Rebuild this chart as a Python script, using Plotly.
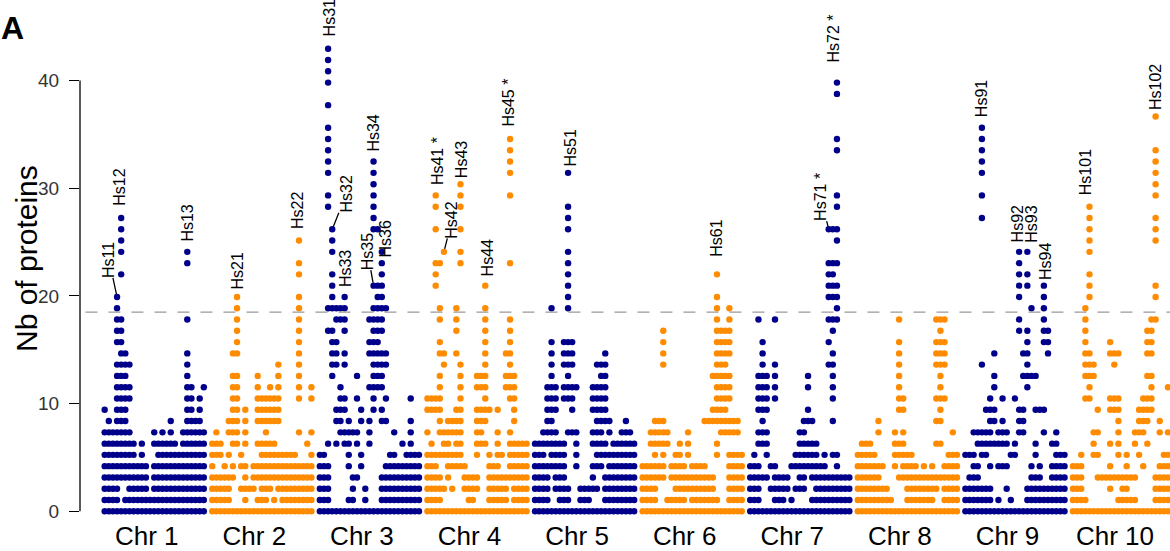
import plotly.graph_objects as go

# ---------------------------------------------------------------- data
CHROMOSOMES = ["Chr 1", "Chr 2", "Chr 3", "Chr 4", "Chr 5",
               "Chr 6", "Chr 7", "Chr 8", "Chr 9", "Chr 10"]
N_BINS = 25          # genomic windows per chromosome

# protein count of each dot row (row index -> value on the y axis)
LEVELS = [0.0, 1.05, 2.09, 3.14, 4.19, 5.24, 6.28, 7.33, 8.38, 9.43,
          10.47, 11.52, 12.57, 13.62, 14.66, 15.71, 16.76, 17.81, 18.85, 19.90,
          20.95, 22.00, 23.04, 24.09, 25.14, 26.19, 27.23, 28.28, 29.33, 30.37,
          31.42, 32.47, 33.52, 34.56, 35.61, 36.66, 37.71, 38.75, 39.80, 40.85,
          41.90, 42.94]
THRESHOLD = 18.5

# for every chromosome: row index -> windows (bin ranges) holding that count
CHR1 = {0: "0-24", 1: "0-3,5-24", 2: "0-3,6-10,12-24", 3: "0-10,12-24",
        4: "0-10,12-24", 5: "0-7,9,13-24", 6: "0-7,9,12-17,19-24",
        7: "0-6,12,14,16,19-24", 8: "1,3-5,16,20-23", 9: "0,3-5,20-21,23",
        10: "3-6,20-21,23", 11: "3-6,20-21,24", 12: "3-5,20", 13: "3-6,20",
        14: "4-5,20", 15: "3-4", 16: "3-4", 17: "3-4,20", 18: "3", 19: "3",
        21: "4", 22: "20", 23: "4,20", 24: "4", 25: "4", 26: "4"}
CHR2 = {0: "0-24", 1: "0-4,8,11-13,15,17-24", 2: "0-4,7-10,12-14,16-24",
        3: "0-5,8,10-24", 4: "0,3,5,7-8,10-24", 5: "0-2,4,7,12-20,24",
        6: "0-2,5-6,8,11-15,23", 7: "1,4-6,8,13,21,24", 8: "4-6,8,11-16",
        9: "5-6,8,11-16", 10: "5-6,11-16,21,24", 11: "5-6,11,14,16,21,24",
        12: "5-6,11,16,21", 13: "16,21", 14: "5-6,21", 15: "6,21", 16: "6,21",
        17: "6,21", 18: "6,21", 19: "6,21", 21: "21", 22: "21", 24: "21"}
CHR3 = {0: "0-24", 1: "0-2,7-8,11,15-24", 2: "0-2,8,11,15-24",
        3: "0-2,8-9,15-24", 4: "0-2,7,10,16-24", 5: "0-1,7,10,17-18,21-24",
        6: "2,4,6-7,9,12,20,22", 7: "5-9,12,18,22", 8: "4-5,7,10,12,15-16,22",
        9: "4-6,10,13,15", 10: "5-6,9,13,16,22", 11: "5,12-15",
        12: "3,9,13-15", 13: "3-4,6,13-16", 14: "3-4,6,12-16", 15: "3-4,12-14",
        16: "2-3,6,13-15", 17: "4-6,12-15", 18: "2-6,13-16", 19: "3,6,14-15",
        20: "3,13-15", 21: "3,15", 22: "15", 23: "3,15", 24: "3",
        25: "3,13-14", 26: "13", 27: "2,13", 28: "2,13", 29: "13", 30: "2,13",
        31: "2,13", 32: "2", 33: "2", 34: "2", 36: "2", 38: "2", 39: "2",
        40: "2", 41: "2"}
CHR4 = {0: "0-24", 1: "0-3,10-11,15-19,21-24", 2: "0-4,6,9-12,15-19,21-24",
        3: "0-3,5,9-12,15-24", 4: "0-2,5-9,15-17,20-24",
        5: "0-8,12,15,17-18,20-24", 6: "1,4-5,7-8,12-14,17,20-24",
        7: "0,3-8,12-13,17,20", 8: "3,5-8,12-14,21", 9: "0-3,7-8,12-15,17,21",
        10: "0-3,8,14,20-21", 11: "3,8,12-14,19-21", 12: "3,8,12-14,19-21",
        13: "4,8,14,20", 14: "3-4,7,14,19-20", 15: "3,14,20", 16: "7,14,20",
        17: "3,7,14,20", 18: "3,7,14", 20: "2,14", 21: "2", 22: "2-3,8,20",
        23: "4,8", 25: "2,8", 27: "2,8", 28: "2,8,20", 29: "8", 30: "20",
        31: "20", 32: "20", 33: "20"}
CHR5 = {0: "0-24", 1: "0-3,6-8,11-13,17-24", 2: "0-3,5-8,11-15,17-24",
        3: "0-3,5-7,14,17-24", 4: "0-7,10,14-16,18-24", 5: "0-2,4-7,10,15-24",
        6: "0-7,10,14-17,19-24", 7: "2-5,8-10,14-16,18,21-23",
        8: "3-4,15-18,22", 9: "3-5,9,14-17", 10: "3-5,7-9,14-17",
        11: "3-5,7-10,14-17", 12: "4,8,16-17", 13: "4,7-9,15-17",
        14: "4,7-9,17", 15: "4,7-9", 18: "4,8", 19: "8", 20: "8", 21: "8",
        22: "8", 23: "8", 25: "8", 26: "8", 27: "8", 30: "8"}
CHR6 = {0: "0-24", 1: "0-3,6-10,12-18,21-24", 2: "0-3,8-17,21-24",
        3: "0-5,7-17,21-24", 4: "0-5,7-10,12-15,21-24",
        5: "3,5,8-9,11,18,21-24", 6: "2-6,9,11,18", 7: "2-6,11,19-23",
        8: "3-5,15-23", 9: "17-20", 10: "18-21", 11: "18-21", 12: "17-21",
        13: "5,18-20", 14: "5,18-21", 15: "5,18-21", 16: "5,18-21",
        17: "18,21", 18: "18,21", 19: "18", 21: "18"}
CHR7 = {0: "0-24", 1: "0-2,6-8,10,15-24", 2: "0-2,5-9,11-13,16-24",
        3: "0-4,6-9,12-13,15-24", 4: "0-2,5-6,10-18,21",
        5: "1,4,11-16,18,20-21", 6: "2-4,12-16", 7: "2-4,12-13",
        8: "3,13-15,20", 9: "2-4,14", 10: "2-4,6,20", 11: "2-4,6,14,20",
        12: "2-4,6,14,20", 13: "3,6,19-20", 14: "3,20", 15: "3,19", 16: "20",
        17: "2,6,19-21", 18: "21", 19: "19-21", 20: "19-21", 21: "19-20",
        22: "19-21", 24: "21", 25: "19-21", 27: "21", 28: "21", 32: "21",
        33: "21", 37: "21", 38: "21"}
CHR8 = {0: "0-24", 1: "0-8,12-18,21-24", 2: "0-7,12-19,21-24",
        3: "0-5,10-24", 4: "0-6,9,11-14,16,18,21-24", 5: "0-4,9-13,22-24",
        6: "1-3,9-11,19-20", 7: "5,9,11,23", 8: "5,19-20", 9: "10-11,20",
        10: "10-11,19-21", 11: "10,20", 12: "10,20", 13: "10,19-21",
        14: "10,19-21", 15: "10,19-21", 16: "20", 17: "10,19-21"}
CHR9 = {0: "0-24", 1: "0-6,8,11,15-24", 2: "0-6,10,15-24",
        3: "1-3,16-18,21-24", 4: "2-3,6,8-10,16,18,21-24",
        5: "0-2,4-5,11-12,17,22-24", 6: "3-10,12,17,21-22",
        7: "2-6,8-10,13-14,19,22", 8: "6-7,9,13-14", 9: "5-7,13-14,17-19",
        10: "6,9,12", 11: "7,15", 12: "7,14-17", 13: "4,15", 14: "7,14-15,20",
        15: "15,19-20", 16: "13,15,19-20", 17: "13,19", 18: "16,19",
        19: "13,19", 20: "13,15,19", 21: "13,15", 22: "13", 23: "13,15",
        26: "4", 28: "4", 30: "4", 31: "4", 32: "4", 33: "4", 34: "4"}
CHR10 = {0: "0-24", 1: "0-3,11-15,20-24", 2: "0-2,9,12-13,20-24",
         3: "0-2,6-15,20-24", 4: "0-2,9,13,17,21-24",
         5: "2,5-6,11,13,16,22-24", 6: "5,9,11,15,18",
         7: "5-6,11,15-17,21,23", 8: "11,16-18,21", 9: "6,9-11,16-19",
         10: "3-4,9-11,17-19", 11: "4,19,23", 12: "3-5,18-19", 13: "3-5,10",
         14: "3-4,9-11,18-19", 15: "3,9,18-19", 16: "3,18-19", 17: "3,19-20",
         18: "3", 19: "4,20", 20: "4,20", 21: "4", 23: "4", 24: "4,20",
         25: "4,20", 26: "4,20", 27: "4", 28: "20", 29: "20", 30: "20",
         31: "20", 32: "20", 35: "20"}
CHR_ROWS = [CHR1, CHR2, CHR3, CHR4, CHR5, CHR6, CHR7, CHR8, CHR9, CHR10]

# labelled clusters: name, chromosome number, window, row
LABEL_NAMES = ["Hs11", "Hs12", "Hs13", "Hs21", "Hs22", "Hs31", "Hs32", "Hs33",
               "Hs34", "Hs35", "Hs36", "Hs41 *", "Hs42", "Hs43", "Hs44",
               "Hs45 *", "Hs51", "Hs61", "Hs71 *", "Hs72 *", "Hs91", "Hs92",
               "Hs93", "Hs94", "Hs101", "Hs102"]
LABEL_CHR = [1, 1, 1, 2, 2, 3, 3, 3, 3, 3, 3, 4, 4, 4, 4, 4, 5, 6, 7, 7,
             9, 9, 9, 9, 10, 10]
LABEL_BIN = [3, 4, 20, 6, 21, 2, 3, 6, 13, 13, 15, 2, 4, 8, 14, 20, 8, 18,
             19, 21, 4, 13, 15, 19, 4, 20]
LABEL_ROW = [19, 26, 23, 19, 24, 41, 25, 19, 31, 20, 22, 28, 23, 29, 20, 33,
             30, 21, 25, 38, 34, 23, 23, 20, 27, 35]

# ---------------------------------------------------------------- styling
BLUE = "#00008B"
ORANGE = "#FF8C00"
FONT = "Liberation Sans, Arial, Helvetica, sans-serif"
SPAN = 0.96          # share of a chromosome slot covered by its windows

# label placement (pixel shift, gap above the dot)
NUDGE = {"Hs12": (-2, 12), "Hs13": (0, 10), "Hs21": (0, 7), "Hs22": (-2, 11),
         "Hs31": (1, 12), "Hs33": (1, 10), "Hs34": (0, 10), "Hs36": (4, 6),
         "Hs41 *": (2, 10), "Hs43": (1, 6), "Hs44": (2, 9),
         "Hs45 *": (-2.5, 12), "Hs51": (2, 6), "Hs61": (0, 18),
         "Hs72 *": (-3, 20), "Hs91": (-1, 11), "Hs92": (-2, 9),
         "Hs93": (4, 9), "Hs94": (1, 6), "Hs101": (-4, 11), "Hs102": (0, 6)}
# labels joined to their dot by a short segment (label centre offset, px)
LEADERS = {"Hs11": (-8, -37), "Hs32": (14, -35), "Hs35": (-6, -34),
           "Hs42": (8, -32), "Hs71 *": (-8, -32)}


def parse_bins(spec):
    out = []
    for part in spec.split(","):
        if "-" in part:
            a, b = part.split("-")
            out.extend(range(int(a), int(b) + 1))
        else:
            out.append(int(part))
    return out


def xpos(chrom_index, window):
    return chrom_index + (window + 0.5) / N_BINS * SPAN


fig = go.Figure()
for ci, rows in enumerate(CHR_ROWS):
    xs, ys = [], []
    for row, spec in rows.items():
        for w in parse_bins(spec):
            xs.append(xpos(ci, w))
            ys.append(LEVELS[row])
    fig.add_trace(go.Scatter(
        x=xs, y=ys, mode="markers", name=CHROMOSOMES[ci],
        marker=dict(size=6.4, color=BLUE if ci % 2 == 0 else ORANGE,
                    line=dict(width=0)),
        hoverinfo="skip", showlegend=False))

annotations = []
for name, ch, w, row in zip(LABEL_NAMES, LABEL_CHR, LABEL_BIN, LABEL_ROW):
    x = xpos(ch - 1, w)
    y = LEVELS[row]
    base = dict(x=x, y=y, xref="x", yref="y", text=name, textangle=-90,
                font=dict(family=FONT, size=16, color="black"),
                borderpad=0, borderwidth=0)
    if name in LEADERS:
        ax, ay = LEADERS[name]
        base.update(showarrow=True, arrowhead=0, arrowwidth=1.3,
                    arrowcolor="black", ax=ax, ay=ay, standoff=3)
    else:
        dx, gap = NUDGE.get(name, (0, 10))
        base.update(showarrow=False, xanchor="center", yanchor="bottom",
                    xshift=dx, yshift=gap)
    annotations.append(base)

# axis title and panel tag
annotations.append(dict(text="Nb of proteins", xref="paper", yref="paper",
                        x=0, y=0.5, xshift=-54, textangle=-90,
                        showarrow=False, xanchor="center", yanchor="middle",
                        font=dict(family=FONT, size=30, color="black")))
annotations.append(dict(text="<b>A</b>", xref="paper", yref="paper",
                        x=0, y=1, xshift=-81, yshift=-28, showarrow=False,
                        xanchor="left", yanchor="middle",
                        font=dict(family=FONT, size=32, color="black")))

shapes = [
    # y axis line, drawn only over the labelled range
    dict(type="line", xref="paper", yref="y", x0=0, x1=0, y0=0, y1=40,
         line=dict(color="black", width=1.3)),
    # significance threshold
    dict(type="line", xref="paper", yref="y", x0=0.005, x1=1,
         y0=THRESHOLD, y1=THRESHOLD,
         line=dict(color="#999999", width=1.3, dash="12px,11px")),
]

fig.update_layout(
    width=1170, height=551,
    margin=dict(l=80, r=0, t=0, b=33),
    paper_bgcolor="white", plot_bgcolor="white",
    annotations=annotations, shapes=shapes,
    showlegend=False,
    xaxis=dict(range=[-0.210, 9.921], showgrid=False, zeroline=False,
               showline=False, ticks="",
               tickvals=[i + 0.41 for i in range(len(CHROMOSOMES))],
               ticktext=CHROMOSOMES, ticklabelstandoff=0,
               tickfont=dict(family=FONT, size=26, color="black")),
    yaxis=dict(range=[-0.622, 47.47], showgrid=False, zeroline=False,
               showline=False, ticks="outside", ticklen=10, tickwidth=1,
               tickcolor="black", tickvals=[0, 10, 20, 30, 40],
               ticklabelstandoff=6,
               tickfont=dict(family=FONT, size=19, color="#333333")),
)

fig.write_html("out.html")
